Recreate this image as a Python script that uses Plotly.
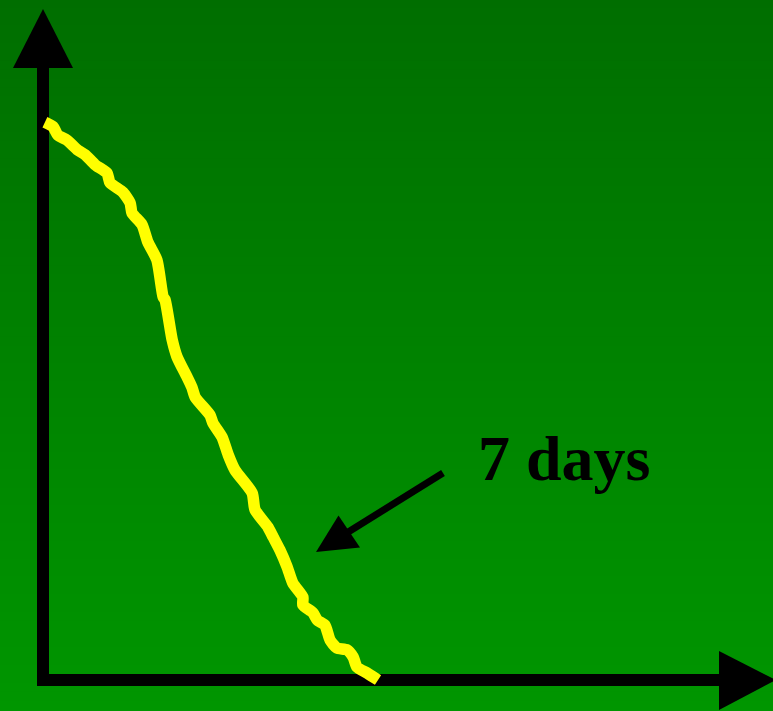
import plotly.graph_objects as go

W, H = 773, 711

# Data: decline curve (x in days, y in percent remaining)
days = [0.04, 0.21, 0.31, 0.50, 0.73, 0.88, 1.09, 1.34, 1.40, 1.67, 1.82, 1.86,
        2.07, 2.19, 2.38, 2.51, 2.55, 2.70, 2.80, 3.01, 3.11, 3.18, 3.49, 3.55,
        3.74, 3.87, 4.01, 4.37, 4.43, 4.70, 4.81, 4.95, 5.10, 5.22, 5.43, 5.43,
        5.64, 5.73, 5.89, 6.00, 6.14, 6.35, 6.48, 6.56, 6.77, 7.00]
percent = [99.6, 98.8, 97.3, 96.4, 94.6, 93.8, 92.0, 90.5, 88.8, 87.1, 85.2, 83.4,
           81.3, 78.2, 75.0, 68.4, 67.9, 60.7, 57.7, 54.1, 52.3, 50.5, 47.3, 45.9,
           43.4, 40.2, 37.5, 33.4, 30.4, 27.3, 25.5, 23.2, 20.2, 17.3, 14.8, 13.4,
           12.0, 10.7, 9.8, 7.1, 5.7, 5.4, 4.1, 2.3, 1.25, 0.0]
label_text = "7 days"

# pixel <-> paper helpers (margins are zero, so paper == figure)
def PX(px):
    return px / W

def PY(py):
    return 1 - py / H

# axis ranges such that data origin sits at pixel (43, 680)
X0, Y0 = 43, 680
XS, YS = 47.86, 5.6
x_range = [(0 - X0) / XS, (W - X0) / XS]
y_range = [(Y0 - H) / YS, Y0 / YS]

fig = go.Figure()
fig.add_trace(go.Scatter(x=days, y=percent, mode="lines",
                         line=dict(color="#FFFF00", width=11.5, shape="spline", smoothing=0.6),
                         hoverinfo="skip", showlegend=False))

shapes = []
# gradient background
n = 80
top = (0, 110, 0)
bot = (0, 150, 0)
for i in range(n):
    t = (i + 0.5) / n
    c = tuple(int(round(top[k] + (bot[k] - top[k]) * t)) for k in range(3))
    shapes.append(dict(type="rect", xref="paper", yref="paper",
                       x0=0, x1=1, y0=1 - i / n + 0.002, y1=1 - (i + 1) / n,
                       fillcolor="rgb(%d,%d,%d)" % c, line=dict(width=0), layer="below"))

# axes lines
shapes.append(dict(type="line", xref="paper", yref="paper",
                   x0=PX(43), x1=PX(43), y0=PY(686), y1=PY(66),
                   line=dict(color="black", width=12), layer="below"))
shapes.append(dict(type="line", xref="paper", yref="paper",
                   x0=PX(37), x1=PX(721), y0=PY(680), y1=PY(680),
                   line=dict(color="black", width=12), layer="below"))

def tri(pts):
    s = "M " + " L ".join("%f,%f" % (PX(a), PY(b)) for a, b in pts) + " Z"
    return dict(type="path", xref="paper", yref="paper", path=s,
                fillcolor="black", line=dict(width=0))

# y arrowhead
shapes.append(tri([(43, 9), (13, 68), (73, 68)]))
# x arrowhead
shapes.append(tri([(776, 680), (719, 651), (719, 710)]))

# annotation arrow
shapes.append(dict(type="line", xref="paper", yref="paper",
                   x0=PX(443), y0=PY(473), x1=PX(345), y1=PY(534),
                   line=dict(color="black", width=7)))
shapes.append(tri([(316, 552), (360, 547.5), (338.5, 515.5)]))

fig.update_layout(
    width=W, height=H,
    margin=dict(l=0, r=0, t=0, b=0),
    paper_bgcolor="rgb(0,130,0)", plot_bgcolor="rgba(0,0,0,0)",
    xaxis=dict(range=x_range, visible=False, fixedrange=True),
    yaxis=dict(range=y_range, visible=False, fixedrange=True),
    shapes=shapes,
    annotations=[dict(xref="paper", yref="paper", x=PX(476), y=PY(482),
                      xanchor="left", yanchor="bottom", yshift=-14,
                      text="<b>" + label_text + "</b>", showarrow=False,
                      font=dict(family="Liberation Serif, Times New Roman, serif",
                                size=64, color="black"))],
    showlegend=False,
)

fig.write_html("out.html", config={"displayModeBar": False},
               post_script="document.body.style.margin='0';document.body.style.overflow='hidden';")
